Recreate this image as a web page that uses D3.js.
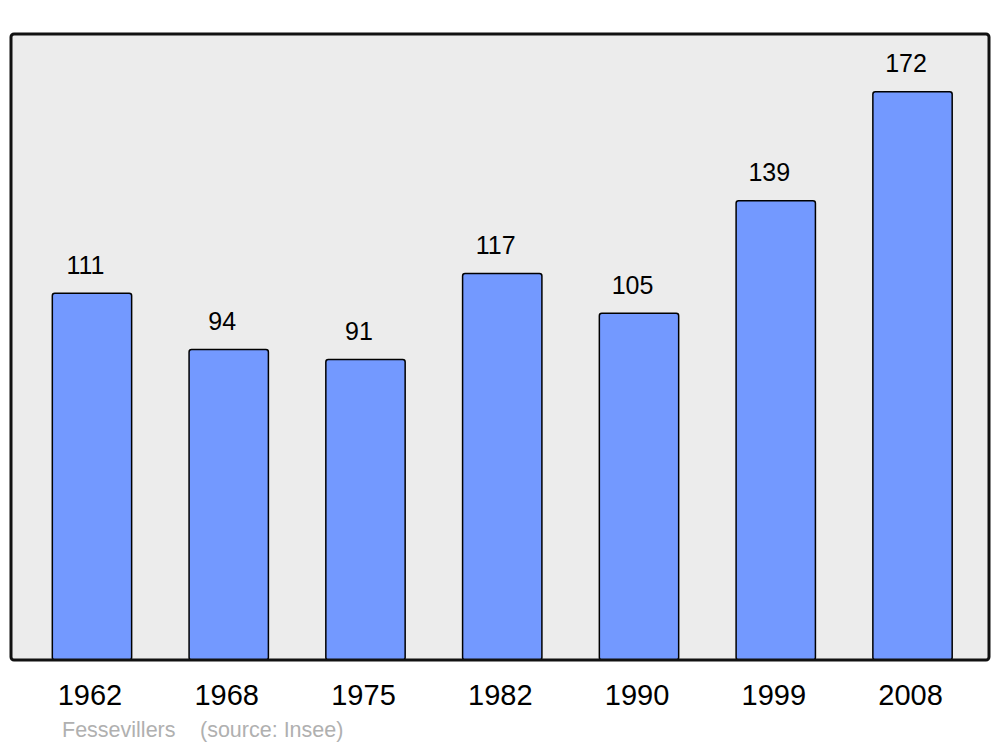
<!DOCTYPE html>
<html>
<head>
<meta charset="utf-8">
<script src="https://cdn.jsdelivr.net/npm/d3@7"></script>
<style>
  body { margin: 0; background: #fff; }
  text { font-family: "Liberation Sans", Arial, sans-serif; }
</style>
</head>
<body>
<svg id="chart" width="1000" height="747"></svg>
<script>
// population by census year
const years = ["1962", "1968", "1975", "1982", "1990", "1999", "2008"];
const population = [111, 94, 91, 117, 105, 139, 172];
const townName = "Fessevillers";
const sourceText = "(source: Insee)";

const svg = d3.select("#chart");
const frame = { left: 11, right: 989, top: 34, bottom: 660 };

// plot background
svg.append("rect")
  .attr("x", frame.left)
  .attr("y", frame.top)
  .attr("width", frame.right - frame.left)
  .attr("height", frame.bottom - frame.top)
  .attr("rx", 3)
  .attr("fill", "#ececec");

const x = d3.scaleBand()
  .domain(years)
  .range([23.6, 980.9])
  .paddingInner(0.42)
  .paddingOuter(0.21);

const y = d3.scaleLinear()
  .domain([0, 189.5])
  .range([frame.bottom, frame.top]);

const data = years.map((yr, i) => ({ year: yr, value: population[i] }));

svg.selectAll("rect.bar").data(data)
  .join("rect")
  .attr("class", "bar")
  .attr("x", d => x(d.year))
  .attr("y", d => y(d.value))
  .attr("width", x.bandwidth())
  .attr("height", d => y(0) - y(d.value))
  .attr("rx", 2.5)
  .attr("fill", "#7399ff")
  .attr("stroke", "#000")
  .attr("stroke-width", 1.5);

// value labels
svg.selectAll("text.val").data(data)
  .join("text")
  .attr("class", "val")
  .attr("x", d => x(d.year) + x.bandwidth() / 2 - 6.5)
  .attr("y", d => y(d.value) - 19.5)
  .attr("text-anchor", "middle")
  .attr("font-size", 25)
  .attr("fill", "#000")
  .text(d => d.value);

// frame outline on top of the bars
svg.append("rect")
  .attr("x", frame.left)
  .attr("y", frame.top)
  .attr("width", frame.right - frame.left)
  .attr("height", frame.bottom - frame.top)
  .attr("rx", 3)
  .attr("fill", "none")
  .attr("stroke", "#111")
  .attr("stroke-width", 3);

// year axis labels
const xAxis = d3.axisBottom(x).tickSize(0).tickPadding(0);
const axisG = svg.append("g")
  .attr("transform", `translate(-2,${frame.bottom})`)
  .call(xAxis);
axisG.select(".domain").remove();
axisG.selectAll("text")
  .attr("dy", null)
  .attr("y", 45)
  .attr("font-size", 29)
  .attr("font-family", "Liberation Sans, Arial, sans-serif")
  .attr("fill", "#000");

// footer
svg.append("text")
  .attr("x", 62)
  .attr("y", 737)
  .attr("font-size", 21.5)
  .attr("fill", "#b0b0b0")
  .text(townName);
svg.append("text")
  .attr("x", 200)
  .attr("y", 737)
  .attr("font-size", 21.5)
  .attr("fill", "#b0b0b0")
  .text(sourceText);
</script>
</body>
</html>
